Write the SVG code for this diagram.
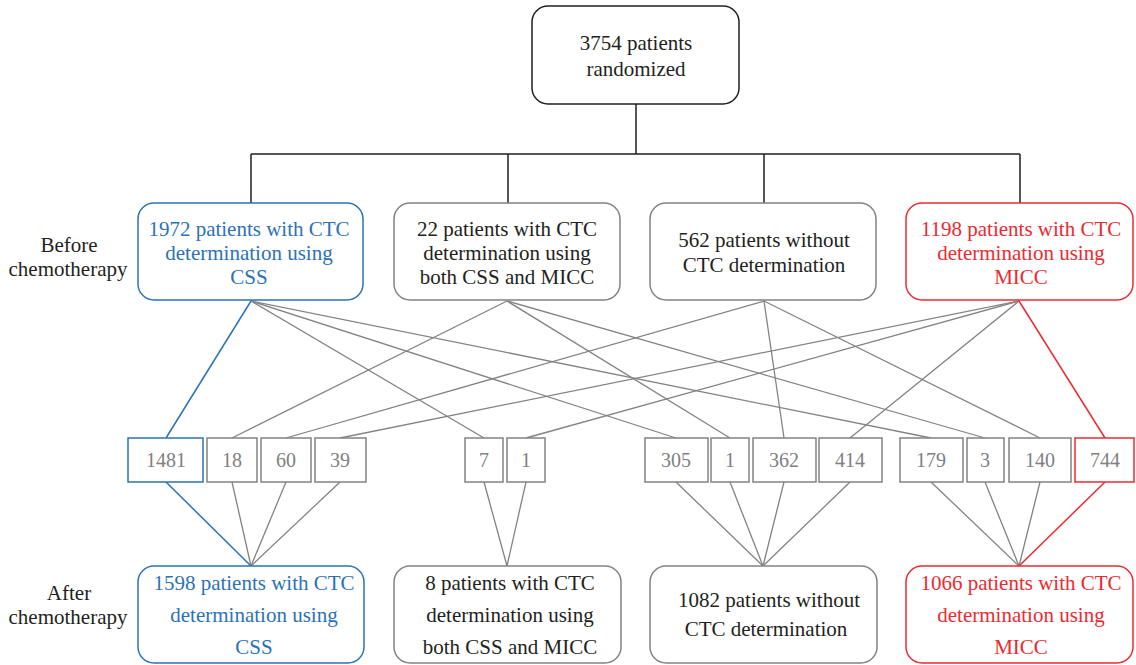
<svg xmlns="http://www.w3.org/2000/svg" width="1136" height="665" viewBox="0 0 1136 665">
<style>
  text { font-family: "Liberation Serif", "Tinos", "DejaVu Serif", "Times New Roman", serif; font-size: 21px; text-anchor: middle; fill: #231f20; }
  .blue { fill: #2b72b8; }
  .red { fill: #ed2a30; }
  .num { font-size: 20px; fill: #808080; }
  .bx { fill: #ffffff; stroke: #838383; stroke-width: 1.5; }
  .bxk { fill: #ffffff; stroke: #231f20; stroke-width: 1.5; }
  .bxb { fill: #ffffff; stroke: #2b72b8; stroke-width: 1.5; }
  .bxr { fill: #ffffff; stroke: #ed2a30; stroke-width: 1.5; }
  .lk { stroke: #231f20; stroke-width: 1.5; fill: none; }
  .lg { stroke: #838383; stroke-width: 1.3; fill: none; }
  .lb { stroke: #2b72b8; stroke-width: 1.5; fill: none; }
  .lr { stroke: #ed2a30; stroke-width: 1.5; fill: none; }
</style>

<g id="connectors">
  <path class="lk" d="M636 104 V154 M251 154 H1020 M251 154 V203 M508 154 V203 M764 154 V203 M1020 154 V203"/>
  <line class="lb" x1="251" y1="301" x2="166" y2="438"/>
  <line class="lg" x1="251" y1="301" x2="484" y2="438"/>
  <line class="lg" x1="251" y1="301" x2="676" y2="438"/>
  <line class="lg" x1="251" y1="301" x2="931" y2="438"/>
  <line class="lg" x1="507" y1="301" x2="232" y2="438"/>
  <line class="lg" x1="507" y1="301" x2="730" y2="438"/>
  <line class="lg" x1="507" y1="301" x2="985" y2="438"/>
  <line class="lg" x1="764" y1="301" x2="286" y2="438"/>
  <line class="lg" x1="764" y1="301" x2="784" y2="438"/>
  <line class="lg" x1="764" y1="301" x2="1040" y2="438"/>
  <line class="lg" x1="1019" y1="301" x2="340" y2="438"/>
  <line class="lg" x1="1019" y1="301" x2="526" y2="438"/>
  <line class="lg" x1="1019" y1="301" x2="850" y2="438"/>
  <line class="lr" x1="1019" y1="301" x2="1105" y2="438"/>
  <line class="lb" x1="166" y1="482" x2="251" y2="566"/>
  <line class="lg" x1="232" y1="482" x2="251" y2="566"/>
  <line class="lg" x1="286" y1="482" x2="251" y2="566"/>
  <line class="lg" x1="340" y1="482" x2="251" y2="566"/>
  <line class="lg" x1="484" y1="482" x2="507" y2="566"/>
  <line class="lg" x1="526" y1="482" x2="507" y2="566"/>
  <line class="lg" x1="676" y1="482" x2="763" y2="566"/>
  <line class="lg" x1="730" y1="482" x2="763" y2="566"/>
  <line class="lg" x1="784" y1="482" x2="763" y2="566"/>
  <line class="lg" x1="850" y1="482" x2="763" y2="566"/>
  <line class="lg" x1="931" y1="482" x2="1019" y2="566"/>
  <line class="lg" x1="985" y1="482" x2="1019" y2="566"/>
  <line class="lg" x1="1040" y1="482" x2="1019" y2="566"/>
  <line class="lr" x1="1105" y1="482" x2="1019" y2="566"/>
</g>

<g id="labels">
  <text x="69" y="252">Before</text>
  <text x="68" y="276">chemotherapy</text>
  <text x="69" y="600">After</text>
  <text x="68" y="624">chemotherapy</text>
</g>

<g id="top">
  <rect class="bxk" x="532" y="6" width="207" height="98" rx="16"/>
  <text x="636" y="50">3754 patients</text>
  <text x="636" y="76">randomized</text>
</g>

<g id="before-css">
  <rect class="bxb" x="138" y="203" width="225" height="97" rx="16"/>
  <text class="blue" x="249" y="236">1972 patients with CTC</text>
  <text class="blue" x="249" y="260">determination using</text>
  <text class="blue" x="249" y="284">CSS</text>
</g>
<g id="before-both">
  <rect class="bx" x="394" y="203" width="226" height="97" rx="16"/>
  <text x="507" y="236">22 patients with CTC</text>
  <text x="507" y="260">determination using</text>
  <text x="507" y="284">both CSS and MICC</text>
</g>
<g id="before-none">
  <rect class="bx" x="650" y="203" width="226" height="97" rx="16"/>
  <text x="764" y="247">562 patients without</text>
  <text x="764" y="272">CTC determination</text>
</g>
<g id="before-micc">
  <rect class="bxr" x="906" y="203" width="227" height="97" rx="16"/>
  <text class="red" x="1021" y="236">1198 patients with CTC</text>
  <text class="red" x="1021" y="260">determination using</text>
  <text class="red" x="1021" y="284">MICC</text>
</g>

<g id="n1481"><rect class="bxb" x="128" y="438" width="75" height="44"/><text class="num blue" x="166" y="467">1481</text></g>
<g id="n18"><rect class="bx" x="207" y="438" width="50" height="44"/><text class="num" x="232" y="467">18</text></g>
<g id="n60"><rect class="bx" x="261" y="438" width="50" height="44"/><text class="num" x="286" y="467">60</text></g>
<g id="n39"><rect class="bx" x="315" y="438" width="51" height="44"/><text class="num" x="340" y="467">39</text></g>
<g id="n7"><rect class="bx" x="465" y="438" width="38" height="44"/><text class="num" x="484" y="467">7</text></g>
<g id="n1a"><rect class="bx" x="507" y="438" width="38" height="44"/><text class="num" x="526" y="467">1</text></g>
<g id="n305"><rect class="bx" x="645" y="438" width="63" height="44"/><text class="num" x="676" y="467">305</text></g>
<g id="n1b"><rect class="bx" x="711" y="438" width="38" height="44"/><text class="num" x="730" y="467">1</text></g>
<g id="n362"><rect class="bx" x="753" y="438" width="63" height="44"/><text class="num" x="784" y="467">362</text></g>
<g id="n414"><rect class="bx" x="819" y="438" width="63" height="44"/><text class="num" x="850" y="467">414</text></g>
<g id="n179"><rect class="bx" x="900" y="438" width="63" height="44"/><text class="num" x="931" y="467">179</text></g>
<g id="n3"><rect class="bx" x="967" y="438" width="37" height="44"/><text class="num" x="985" y="467">3</text></g>
<g id="n140"><rect class="bx" x="1009" y="438" width="62" height="44"/><text class="num" x="1040" y="467">140</text></g>
<g id="n744"><rect class="bxr" x="1075" y="438" width="59" height="44"/><text class="num red" x="1105" y="467">744</text></g>

<g id="after-css">
  <rect class="bxb" x="138" y="566" width="226" height="97" rx="16"/>
  <text class="blue" x="254" y="590">1598 patients with CTC</text>
  <text class="blue" x="254" y="622">determination using</text>
  <text class="blue" x="254" y="654">CSS</text>
</g>
<g id="after-both">
  <rect class="bx" x="394" y="566" width="227" height="97" rx="16"/>
  <text x="510" y="590">8 patients with CTC</text>
  <text x="510" y="622">determination using</text>
  <text x="510" y="654">both CSS and MICC</text>
</g>
<g id="after-none">
  <rect class="bx" x="650" y="566" width="227" height="97" rx="16"/>
  <text x="769" y="607">1082 patients without</text>
  <text x="766" y="636">CTC determination</text>
</g>
<g id="after-micc">
  <rect class="bxr" x="906" y="566" width="227" height="97" rx="16"/>
  <text class="red" x="1021" y="590">1066 patients with CTC</text>
  <text class="red" x="1021" y="622">determination using</text>
  <text class="red" x="1021" y="654">MICC</text>
</g>
</svg>
